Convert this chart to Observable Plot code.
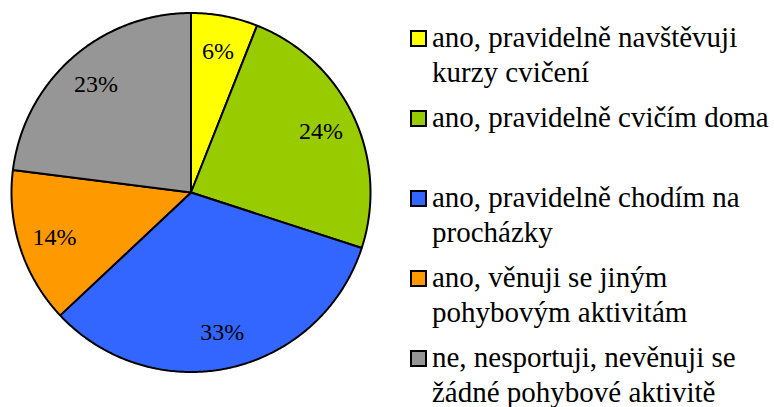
<!DOCTYPE html>
<html><head><meta charset="utf-8">
<script src="https://cdn.jsdelivr.net/npm/d3@7"></script>
<script src="https://cdn.jsdelivr.net/npm/@observablehq/plot@0.6"></script>
<style>
html,body{margin:0;padding:0;background:#fff;overflow:hidden;}
#wrap{position:relative;width:774px;height:407px;overflow:hidden;font-family:"Liberation Serif","Times New Roman",serif;}
#chart{position:absolute;left:0;top:0;}
.item{position:absolute;left:410px;display:flex;align-items:flex-start;}
.sw{width:13px;height:13px;border:2px solid #000;margin-top:10px;flex:none;}
.lab{margin-left:5px;font-family:"Liberation Serif","Times New Roman",serif;font-size:29px;line-height:35px;white-space:pre;color:#000;}
</style>
</head><body>
<div id="wrap"><div id="chart"></div></div>
<script>
const categories = [
  "ano, pravidelně navštěvuji\nkurzy cvičení",
  "ano, pravidelně cvičím doma",
  "ano, pravidelně chodím na\nprocházky",
  "ano, věnuji se jiným\npohybovým aktivitám",
  "ne, nesportuji, nevěnuji se\nžádné pohybové aktivitě"
];
const values = [6, 24, 33, 14, 23];
const colors = ["#FFFF00", "#99CC00", "#3366FF", "#FF9900", "#969696"];

const total = d3.sum(values);
let acc = 0;
const slices = values.map((v, i) => {
  const a0 = acc / total * 2 * Math.PI;
  acc += v;
  const a1 = acc / total * 2 * Math.PI;
  return {key: categories[i], value: v, a0, a1, mid: (a0 + a1) / 2};
});
const pts = [];
for (const s of slices) {
  pts.push({key: s.key, x: 0, y: 0});
  const n = Math.max(2, Math.ceil((s.a1 - s.a0) / 0.01));
  for (let k = 0; k <= n; k++) {
    const a = s.a0 + (s.a1 - s.a0) * k / n;
    pts.push({key: s.key, x: Math.sin(a), y: Math.cos(a)});
  }
  pts.push({key: s.key, x: 0, y: 0});
}
const cx = 190.5, cy = 192, r = 179.5;
const plot = Plot.plot({
  width: 400, height: 407,
  margin: 0,
  x: {domain: [-1, 1], range: [cx - r, cx + r], axis: null},
  y: {domain: [1, -1], range: [cy - r, cy + r], axis: null},
  color: {domain: categories, range: colors},
  marks: [
    Plot.line(pts, {x: "x", y: "y", z: "key", fill: "key", stroke: "#000", strokeWidth: 2, curve: "linear", strokeLinejoin: "miter"}),
    Plot.text(slices, {
      x: d => 0.8 * Math.sin(d.mid), y: d => 0.8 * Math.cos(d.mid),
      text: d => d.value + "%", fontSize: 24, fontFamily: "Liberation Serif", fill: "#000"
    })
  ]
});
plot.style.fontFamily = "Liberation Serif";
document.getElementById("chart").appendChild(plot);

const wrap = document.getElementById("wrap");
categories.forEach((c, i) => {
  const it = document.createElement("div");
  it.className = "item";
  it.style.top = (20 + i * 80) + "px";
  const sw = document.createElement("div");
  sw.className = "sw"; sw.style.background = colors[i];
  const lb = document.createElement("div");
  lb.className = "lab"; lb.textContent = c;
  it.appendChild(sw); it.appendChild(lb);
  wrap.appendChild(it);
});
</script>
</body></html>
